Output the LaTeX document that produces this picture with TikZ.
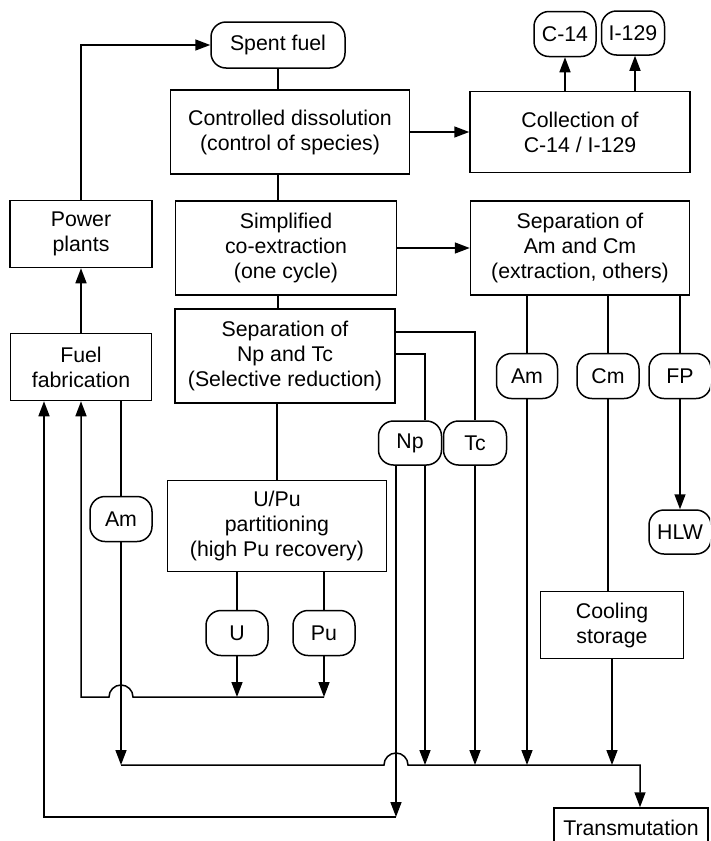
\documentclass[tikz,border=0pt]{standalone}
\usepackage{fontspec}
\setmainfont{Liberation Sans}
\usetikzlibrary{arrows.meta}

\tikzset{
 box/.style={draw,align=center,inner sep=0pt,font=\fontsize{21.3}{25}\selectfont},
 pill/.style={box,rounded corners=15pt},
 arr/.style={-{Triangle[length=15pt,width=11pt]}},
}

\begin{document}
\begin{tikzpicture}[x=1pt,y=1pt,line width=1.5pt]
 \useasboundingbox (0,0) rectangle (710,-841);
 \clip (0,0) rectangle (710,-841);

 \node[pill,minimum width=134pt,minimum height=46pt] (spent) at (278,-45) {Spent fuel};
 \node[box,minimum width=239pt,minimum height=84pt] (dissol) at (290,-132) {Controlled dissolution\\(control of species)};
 \node[box,minimum width=220pt,minimum height=81pt] (collect) at (580,-132) {Collection of\\C-14 / I-129};
 \node[pill,minimum width=62pt,minimum height=45pt] (cfourteen) at (565,-34) {C-14};
 \node[pill,minimum width=63pt,minimum height=44pt] (iodine) at (633,-33) {I-129};
 \node[box,minimum width=142pt,minimum height=67pt] (plants) at (81,-234) {Power\\plants};
 \node[box,minimum width=221pt,minimum height=94pt] (coext) at (286,-248) {Simplified\\co-extraction\\(one cycle)};
 \node[box,minimum width=219pt,minimum height=94pt] (sepamcm) at (580,-248) {Separation of\\Am and Cm\\(extraction, others)};
 \node[box,minimum width=220pt,minimum height=94pt] (sepnptc) at (285,-356) {Separation of\\Np and Tc\\(Selective reduction)};
 \node[box,minimum width=141pt,minimum height=67pt] (fab) at (81,-367) {Fuel\\fabrication};
 \node[box,minimum width=219pt,minimum height=91pt] (upu) at (277,-526) {U/Pu\\partitioning\\(high Pu recovery)};
 \node[pill,minimum width=62pt,minimum height=45pt] (amfab) at (121,-519) {Am};
 \node[pill,minimum width=62pt,minimum height=45pt] (u) at (237,-633) {U};
 \node[pill,minimum width=62pt,minimum height=45pt] (pu) at (324,-633) {Pu};
 \node[pill,minimum width=63pt,minimum height=44pt] (np) at (410,-443) {Np};
 \node[pill,minimum width=63pt,minimum height=44pt] (tc) at (475,-443) {Tc};
 \node[pill,minimum width=61pt,minimum height=45pt] (am) at (527,-376) {Am};
 \node[pill,minimum width=62pt,minimum height=45pt] (cm) at (608,-376) {Cm};
 \node[pill,minimum width=62pt,minimum height=45pt] (fp) at (680,-376) {FP};
 \node[pill,minimum width=62pt,minimum height=44pt] (hlw) at (680,-532) {HLW};
 \node[box,minimum width=143pt,minimum height=67pt] (cooling) at (612,-625) {Cooling\\storage};
 \node[box,minimum width=154pt,minimum height=40pt] (transm) at (631,-828) {Transmutation};

 \coordinate (ret1) at (81,-697);
 \coordinate (ret2) at (44,-817);
 \coordinate (bus) at (640,-765);

 \draw (spent.south) -- (spent.south |- dissol.north);
 \draw (spent.south |- dissol.south) -- (spent.south |- coext.north);
 \draw (spent.south |- coext.south) -- (spent.south |- sepnptc.north);
 \draw[arr] (dissol.east) -- (dissol.east -| collect.west);
 \draw[arr] (cfourteen.south |- collect.north) -- (cfourteen.south);
 \draw[arr] ([xshift=2pt]iodine.south |- collect.north) -- ([xshift=2pt]iodine.south);
 \draw[arr] (coext.east) -- (coext.east -| sepamcm.west);
 \draw[arr] (fab.north) -- (plants.south);
 \draw[arr] (plants.north) |- (spent.west);

 \draw ([yshift=24pt]sepnptc.east) -| (tc.north);
 \draw ([yshift=2pt]sepnptc.east) -| ([xshift=15pt]np.north);
 \draw (upu.north |- sepnptc.south) -- (upu.north);
 \draw (u.north |- upu.south) -- (u.north);
 \draw (pu.north |- upu.south) -- (pu.north);
 \draw (amfab.north |- fab.south) -- (amfab.north);

 \draw (am.north |- sepamcm.south) -- (am.north);
 \draw (cm.north |- sepamcm.south) -- (cm.north);
 \draw (fp.north |- sepamcm.south) -- (fp.north);
 \draw[arr] (fp.south) -- (hlw.north);
 \draw (cm.south) -- (cm.south |- cooling.north);

 \draw[arr] (u.south) -- (u.south |- ret1);
 \draw[arr] (pu.south) -- (pu.south |- ret1);
 \draw[arr] (pu.south |- ret1) -- ([xshift=12pt]amfab.south |- ret1) arc[start angle=0,end angle=180,radius=12pt] -- (ret1) -- (ret1 |- fab.south);

 \draw[arr] (amfab.south) -- (amfab.south |- bus);
 \draw[arr] ([xshift=15pt]np.south) -- ([xshift=15pt]np.south |- bus);
 \draw[arr] (tc.south) -- (tc.south |- bus);
 \draw[arr] (am.south) -- (am.south |- bus);
 \draw[arr] (cooling.south) -- (cooling.south |- bus);
 \draw[arr] (amfab.south |- bus) -- ([xshift=-26pt]np.south |- bus) arc[start angle=180,end angle=0,radius=12pt] -- (bus) -- (bus |- transm.north);

 \draw[arr] ([xshift=-14pt]np.south) -- ([xshift=-14pt]np.south |- ret2);
 \draw[arr] ([xshift=-14pt]np.south |- ret2) -- (ret2) -- (ret2 |- fab.south);
\end{tikzpicture}
\end{document}
